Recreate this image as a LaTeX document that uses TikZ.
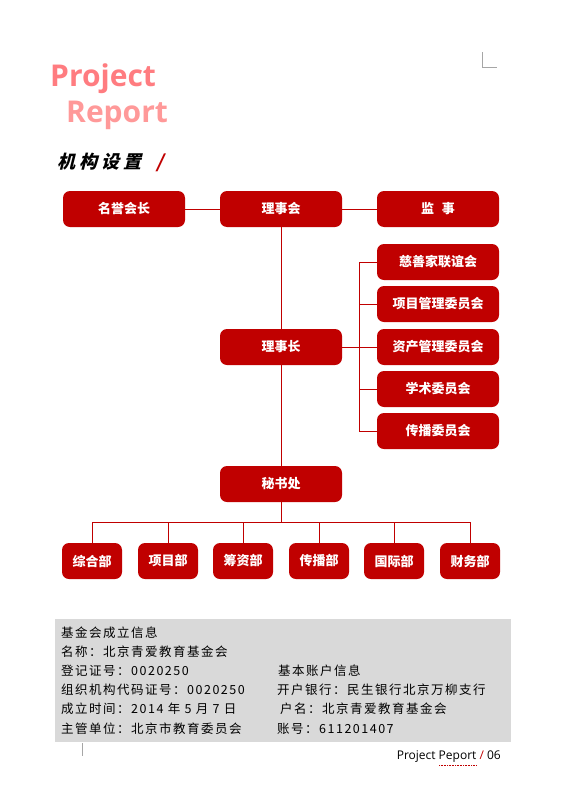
\documentclass[tikz,border=0pt]{standalone}
\usepackage{fontspec}
\setmainfont{Open Sans}
\newfontfamily\cjk{Noto Sans CJK SC}
\newfontfamily\cjkinfo[LetterSpace=12]{Noto Sans CJK SC}
\newfontfamily\cjktitolo[FakeSlant=0.25, LetterSpace=22]{Noto Sans CJK SC}
\usetikzlibrary{positioning, calc}

\definecolor{rosso}{HTML}{C00000}
\definecolor{rosa}{HTML}{FF7C80}
\definecolor{rosachiaro}{HTML}{FF9999}
\definecolor{grigio}{HTML}{D9D9D9}
\definecolor{segno}{HTML}{A6A6A6}

\tikzset{
    ente/.style={fill=rosso, rounded corners=7pt, minimum width=122pt, minimum height=36pt,
        inner sep=0pt, text=white, font=\cjk\bfseries\fontsize{13}{13}\selectfont},
    reparto/.style={ente, minimum width=60pt},
    linea/.style={rosso, line width=0.8pt},
    info/.style={anchor=west, inner sep=0pt, font=\cjkinfo\fontsize{12.5}{13}\selectfont}
}

\begin{document}
\begin{tikzpicture}[x=1pt, y=-1pt]
    \useasboundingbox (0,0) rectangle (565,803);

    % segni d'angolo
    \draw[segno, line width=0.8pt] (482,52) -- (482,67) -- (497,67);
    \draw[segno, line width=0.8pt] (82,743) -- (82,756);

    % titolo
    \node[anchor=base west, inner sep=0pt, text=rosa, font=\bfseries\fontsize{30}{30}\selectfont] (tit1) at (50,86) {Project};
    \node[anchor=base west, inner sep=0pt, text=rosachiaro, font=\bfseries\fontsize{30}{30}\selectfont] (tit2) at (66,122) {Report};
    \node[anchor=base west, inner sep=0pt, font=\cjktitolo\bfseries\fontsize{18}{18}\selectfont] (sezione) at (57,168) {机构设置};
    \node[anchor=base west, inner sep=0pt, text=rosso, font=\cjktitolo\bfseries\fontsize{18}{18}\selectfont] (barra) at (156,168) {/};

    %理事会
    \node[ente] (onorario) at (124,209) {名誉会长};
    \node[ente] (consiglio) at (281,209) {理事会};
    \node[ente] (sindaco) at (438,209) {监\hspace{0.6em}事};
    \draw[linea] (onorario) -- (consiglio);
    \draw[linea] (consiglio) -- (sindaco);

    % 理事长
    \node[ente] (presidente) at (281,347) {理事长};
    \draw[linea] (consiglio) -- (presidente);

    % 委员会
    \node[ente] (c1) at (438,262) {慈善家联谊会};
    \node[ente] (c2) at (438,304) {项目管理委员会};
    \node[ente] (c3) at (438,347) {资产管理委员会};
    \node[ente] (c4) at (438,389) {学术委员会};
    \node[ente] (c5) at (438,431) {传播委员会};
    \coordinate (snodo) at (359,347);
    \draw[linea] (presidente) -- (snodo);
    \draw[linea] (snodo |- c1) -- (snodo |- c5);
    \foreach \c in {c1,c2,c3,c4,c5}
        \draw[linea] (snodo |- \c) -- (\c);

    % 秘书处
    \node[ente] (segreteria) at (281,484) {秘书处};
    \draw[linea] (presidente) -- (segreteria);

    % 各部
    \node[reparto] (d1) at (92,561) {综合部};
    \node[reparto] (d2) at (168,561) {项目部};
    \node[reparto] (d3) at (243,561) {筹资部};
    \node[reparto] (d4) at (319,561) {传播部};
    \node[reparto] (d5) at (394,561) {国际部};
    \node[reparto] (d6) at (470,561) {财务部};
    \coordinate (bus) at (281,522);
    \draw[linea] (segreteria) -- (bus);
    \draw[linea] (d1 |- bus) -- (d6 |- bus);
    \foreach \d in {d1,d2,d3,d4,d5,d6}
        \draw[linea] (\d |- bus) -- (\d);

    % informazioni
    \fill[grigio] (55,619) rectangle (511,742);
    \node[info] (i1) at (61,633) {基金会成立信息};
    \node[info] (i2) at (61,652) {名称：北京青爱教育基金会};
    \node[info] (i3) at (61,671) {登记证号：0020250};
    \node[info] (i4) at (61,690) {组织机构代码证号：0020250};
    \node[info] (i5) at (61,709) {成立时间：2014 年 5 月 7 日};
    \node[info] (i6) at (61,729) {主管单位：北京市教育委员会};
    \node[info] (j1) at (278,671) {基本账户信息};
    \node[info] (j2) at (277,690) {开户银行：民生银行北京万柳支行};
    \node[info] (j3) at (280,709) {户名：北京青爱教育基金会};
    \node[info] (j4) at (277,729) {账号：611201407};

    % piè di pagina
    \node[anchor=east, inner sep=0pt, font=\fontsize{12}{12}\selectfont] (pagina) at (501,757) {Project Peport \textcolor{rosso}{/} 06};
    \draw[rosso, densely dotted, line width=0.6pt] (439,765) -- (476,765);
\end{tikzpicture}
\end{document}
